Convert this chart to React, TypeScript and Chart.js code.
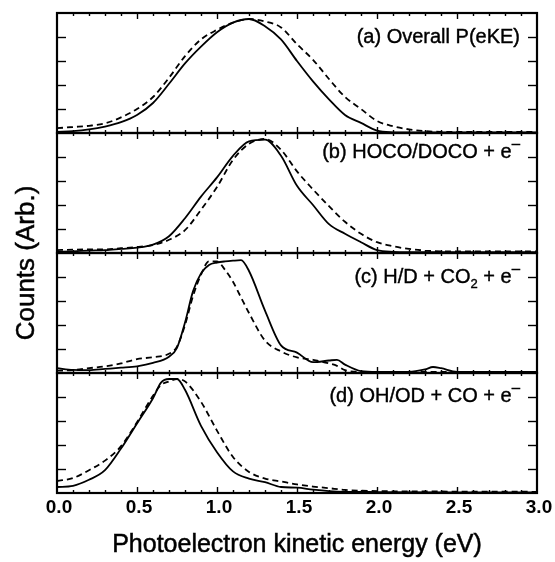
import React, { useEffect, useRef } from "react";
import { Chart, registerables } from "chart.js";

Chart.register(...registerables);

// ---------- data ----------
const A_X = [0, 0.1, 0.2, 0.3, 0.4, 0.5, 0.6, 0.7, 0.8, 0.9, 1.0, 1.1, 1.2, 1.3, 1.4, 1.5, 1.6, 1.7, 1.8, 1.9, 2.0, 2.1, 2.2, 2.3, 2.4, 2.5, 2.6, 2.7, 2.8, 2.9, 3.0];
const A_SOLID = [0.05, 0.08, 0.15, 0.27, 0.45, 0.75, 1.25, 2.05, 2.9, 3.6, 4.2, 4.6, 4.75, 4.45, 3.9, 3.0, 2.15, 1.4, 0.75, 0.42, 0.1, 0.03, 0.02, 0.02, 0.02, 0.02, 0.02, 0.02, 0.02, 0.02, 0.02];
const A_DASHED = [0.2, 0.25, 0.3, 0.4, 0.65, 1.0, 1.5, 2.3, 3.2, 3.9, 4.3, 4.6, 4.75, 4.65, 4.4, 3.7, 3.05, 2.25, 1.5, 1.0, 0.5, 0.28, 0.15, 0.08, 0.05, 0.05, 0.05, 0.05, 0.05, 0.05, 0.05];

const B_X = [0, 0.1, 0.2, 0.3, 0.4, 0.5, 0.6, 0.7, 0.8, 0.9, 1.0, 1.1, 1.2, 1.3, 1.4, 1.5, 1.6, 1.7, 1.8, 1.9, 2.0, 2.1, 2.2, 2.3, 2.4, 2.5, 2.6, 2.7, 2.8, 2.9, 3.0];
const B_SOLID = [0.05, 0.07, 0.1, 0.12, 0.17, 0.22, 0.35, 0.7, 1.45, 2.35, 3.15, 4.05, 4.65, 4.72, 4.05, 2.8, 2.0, 1.2, 0.8, 0.45, 0.12, 0.05, 0.04, 0.04, 0.04, 0.04, 0.04, 0.04, 0.04, 0.04, 0.04];
const B_DASHED = [0.12, 0.14, 0.15, 0.15, 0.2, 0.25, 0.33, 0.55, 0.95, 1.8, 2.75, 3.88, 4.55, 4.75, 4.3, 3.4, 2.65, 1.95, 1.3, 0.8, 0.45, 0.28, 0.17, 0.1, 0.07, 0.07, 0.07, 0.07, 0.07, 0.07, 0.07];

const C_X = [0, 0.1, 0.2, 0.3, 0.4, 0.5, 0.6, 0.7, 0.75, 0.8, 0.85, 0.9, 0.95, 1.0, 1.05, 1.1, 1.15, 1.2, 1.3, 1.4, 1.5, 1.6, 1.7, 1.75, 1.8, 1.9, 2.0, 2.2, 2.3, 2.35, 2.4, 2.5, 2.7, 3.0];
const C_SOLID = [0.2, 0.13, 0.12, 0.17, 0.22, 0.28, 0.42, 0.68, 1.05, 2.1, 3.4, 4.15, 4.5, 4.6, 4.65, 4.68, 4.7, 4.25, 2.6, 1.15, 0.85, 0.45, 0.52, 0.55, 0.35, 0.08, 0.05, 0.05, 0.15, 0.25, 0.2, 0.05, 0.05, 0.05];
const C_DASHED = [0.1, 0.12, 0.2, 0.28, 0.4, 0.58, 0.66, 0.8, 1.1, 2.0, 3.2, 4.1, 4.65, 4.65, 4.3, 3.8, 3.15, 2.5, 1.35, 0.9, 0.65, 0.55, 0.4, 0.3, 0.12, 0.05, 0.05, 0.05, 0.05, 0.05, 0.05, 0.05, 0.05, 0.05];

const D_X = [0, 0.1, 0.2, 0.3, 0.4, 0.5, 0.6, 0.65, 0.7, 0.75, 0.8, 0.9, 1.0, 1.1, 1.2, 1.3, 1.4, 1.5, 1.6, 1.7, 1.8, 2.0, 2.5, 3.0];
const D_SOLID = [0.25, 0.3, 0.55, 0.95, 1.85, 2.9, 3.95, 4.6, 4.75, 4.75, 4.3, 2.8, 1.7, 0.9, 0.6, 0.45, 0.25, 0.22, 0.14, 0.08, 0.05, 0.04, 0.03, 0.03];
const D_DASHED = [0.5, 0.62, 0.95, 1.35, 1.95, 2.95, 4.05, 4.5, 4.65, 4.75, 4.65, 3.8, 2.6, 1.5, 0.88, 0.6, 0.48, 0.36, 0.27, 0.2, 0.13, 0.08, 0.06, 0.05];

const X_TICK_VALUES = [0, 0.5, 1.0, 1.5, 2.0, 2.5, 3.0];
const X_TICK_LABELS = ["0.0", "0.5", "1.0", "1.5", "2.0", "2.5", "3.0"];
const Y_TICK_VALUES = [1, 2, 3, 4];

const X_TITLE = "Photoelectron kinetic energy (eV)";
const Y_TITLE = "Counts (Arb.)";

type Seg = { t: string; mode?: "sup" | "sub" };
const PANEL_LABELS: Seg[][] = [
  [{ t: "(a) Overall P(eKE)" }],
  [{ t: "(b) HOCO/DOCO + e" }, { t: "\u2013", mode: "sup" }],
  [{ t: "(c) H/D + CO" }, { t: "2", mode: "sub" }, { t: " + e" }, { t: "\u2013", mode: "sup" }],
  [{ t: "(d) OH/OD + CO + e" }, { t: "\u2013", mode: "sup" }],
];
const PANEL_IDS = ["yA", "yB", "yC", "yD"];
const LABEL_BASELINE_OFFSETS = [30, 25, 30, 29];

const FONT = '"Liberation Sans", Arial, Helvetica, sans-serif';

function pts(xs: number[], ys: number[]) {
  return xs.map((x, i) => ({ x, y: ys[i] }));
}

function heavyText(ctx: CanvasRenderingContext2D, t: string, x: number, y: number, w = 0.4) {
  ctx.fillText(t, x, y);
  ctx.lineWidth = w;
  ctx.strokeText(t, x, y);
}

const panelPlugin = {
  id: "panelDecor",
  afterDatasetsDraw(chart: any) {
    const ctx = chart.ctx as CanvasRenderingContext2D;
    const xs = chart.scales.x;
    const { left, right } = chart.chartArea;
    ctx.save();
    ctx.strokeStyle = "#000";
    ctx.fillStyle = "#000";
    const line = (x1: number, y1: number, x2: number, y2: number) => {
      ctx.beginPath();
      ctx.moveTo(x1, y1);
      ctx.lineTo(x2, y2);
      ctx.stroke();
    };
    PANEL_IDS.forEach((id, i) => {
      const ys = chart.scales[id];
      const top = ys.top;
      const bottom = ys.bottom;
      ctx.lineWidth = 1.4;
      Y_TICK_VALUES.forEach((v) => {
        const py = Math.round(ys.getPixelForValue(v)) + 0.5;
        line(left, py, left + 9, py);
        line(right - 9, py, right, py);
      });
      for (let k = 1; k < 30; k++) {
        const v = k / 10;
        const px = Math.round(xs.getPixelForValue(v)) + 0.5;
        const len = k % 5 === 0 ? 6 : 3;
        line(px, top, px, top + len);
        line(px, bottom, px, bottom - len);
      }
      ctx.lineWidth = 2.2;
      ctx.strokeRect(left, top, right - left, bottom - top);

      // panel label, right aligned
      const segs = PANEL_LABELS[i];
      const mainFont = `20px ${FONT}`;
      const smallFont = `13px ${FONT}`;
      const supFont = `15px ${FONT}`;
      let total = 0;
      const widths = segs.map((s) => {
        ctx.font = s.mode === "sub" ? smallFont : s.mode === "sup" ? supFont : mainFont;
        const w = ctx.measureText(s.t).width;
        total += w;
        return w;
      });
      let cx = right - 17 - total;
      const base = top + LABEL_BASELINE_OFFSETS[i];
      ctx.textAlign = "left";
      ctx.textBaseline = "alphabetic";
      segs.forEach((s, j) => {
        let dy = 0;
        if (s.mode === "sub") {
          ctx.font = smallFont;
          dy = 5;
        } else if (s.mode === "sup") {
          ctx.font = supFont;
          dy = -10;
        } else ctx.font = mainFont;
        heavyText(ctx, s.t, cx, base + dy);
        cx += widths[j];
      });
    });

    // x tick labels
    const bottomArea = chart.chartArea.bottom;
    ctx.font = `bold 19px ${FONT}`;
    ctx.textAlign = "center";
    ctx.textBaseline = "middle";
    X_TICK_VALUES.forEach((v, i) => {
      ctx.fillText(X_TICK_LABELS[i], xs.getPixelForValue(v) + 2, bottomArea + 15);
    });

    // x title
    ctx.font = `25px ${FONT}`;
    ctx.textBaseline = "alphabetic";
    heavyText(ctx, X_TITLE, (left + right) / 2, bottomArea + 59, 0.5);

    // y title
    ctx.save();
    ctx.translate(34, (chart.chartArea.top + bottomArea) / 2 + 10);
    ctx.rotate(-Math.PI / 2);
    ctx.font = `26px ${FONT}`;
    ctx.textAlign = "center";
    ctx.textBaseline = "alphabetic";
    heavyText(ctx, Y_TITLE, 0, 0, 0.5);
    ctx.restore();

    ctx.restore();
  },
};

function yScale(weight: number) {
  return {
    type: "linear" as const,
    display: false,
    position: "left" as const,
    stack: "panels",
    stackWeight: 1,
    weight,
    min: 0,
    max: 5,
  };
}

export default function App() {
  const ref = useRef<HTMLCanvasElement | null>(null);
  useEffect(() => {
    if (!ref.current) return;
    const solid = { borderColor: "#000", borderWidth: 1.8, pointRadius: 0, fill: false, cubicInterpolationMode: "monotone" as const };
    const dashed = { ...solid, borderDash: [6, 4] };
    const chart = new Chart(ref.current, {
      type: "line",
      data: {
        datasets: [
          { label: "(a) solid", data: pts(A_X, A_SOLID), yAxisID: "yA", ...solid },
          { label: "(a) dashed", data: pts(A_X, A_DASHED), yAxisID: "yA", ...dashed },
          { label: "(b) solid", data: pts(B_X, B_SOLID), yAxisID: "yB", ...solid },
          { label: "(b) dashed", data: pts(B_X, B_DASHED), yAxisID: "yB", ...dashed },
          { label: "(c) solid", data: pts(C_X, C_SOLID), yAxisID: "yC", ...solid },
          { label: "(c) dashed", data: pts(C_X, C_DASHED), yAxisID: "yC", ...dashed },
          { label: "(d) solid", data: pts(D_X, D_SOLID), yAxisID: "yD", ...solid },
          { label: "(d) dashed", data: pts(D_X, D_DASHED), yAxisID: "yD", ...dashed },
        ],
      },
      options: {
        responsive: false,
        animation: false,
        events: [],
        layout: { padding: { left: 57, right: 18, top: 13, bottom: 69 } },
        plugins: { legend: { display: false }, tooltip: { enabled: false }, title: { display: false } },
        scales: {
          x: { type: "linear", display: false, min: 0, max: 3 },
          yA: yScale(4),
          yB: yScale(3),
          yC: yScale(2),
          yD: yScale(1),
        },
      },
      plugins: [panelPlugin],
    });
    return () => chart.destroy();
  }, []);
  return (
    <div style={{ position: "absolute", left: 0, top: 0, width: 555, height: 562, background: "#fff" }}>
      <canvas ref={ref} width={555} height={562} style={{ display: "block" }} />
    </div>
  );
}
